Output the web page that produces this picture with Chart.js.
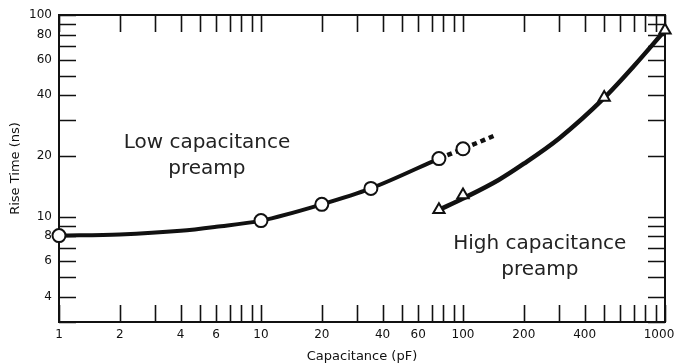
<!DOCTYPE html>
<html>
<head>
<meta charset="utf-8">
<script src="https://cdn.jsdelivr.net/npm/chart.js@4"></script>
<style>
  html, body { margin: 0; padding: 0; background: #fff; }
  canvas { display: block; }
</style>
</head>
<body>
<canvas id="chartRise" width="677" height="364"></canvas>
<script>
// measured points (capacitance pF / rise time ns)
const lowCap = [1, 10, 20, 35, 76, 100];
const lowRise = [8.05, 9.55, 11.5, 13.8, 19.4, 21.7];
const highCap = [76, 100, 500, 1000];
const highRise = [10.8, 12.8, 39, 84];

// drawn curves
const lowCurveCap = [1, 2, 4, 6, 10, 20, 35, 76];
const lowCurveRise = [8.05, 8.15, 8.5, 8.9, 9.55, 11.5, 13.8, 19.4];
const lowDashCap = [76, 100, 147];
const lowDashRise = [19.4, 21.7, 25.5];
const highCurveCap = [76, 100, 150, 200, 300, 500, 700, 1000];
const highCurveRise = [10.8, 12.3, 15.2, 18.3, 24.5, 38.8, 55.7, 84];

// axis ticks
const xTickMarks = [1, 2, 3, 4, 5, 6, 7, 8, 9, 10, 20, 30, 40, 50, 60, 70, 80, 90,
  100, 200, 300, 400, 500, 600, 700, 800, 900, 1000];
const xTickLabels = [1, 2, 4, 6, 10, 20, 40, 60, 100, 200, 400, 1000];
const yTickMarks = [3, 4, 5, 6, 7, 8, 9, 10, 20, 30, 40, 50, 60, 70, 80, 90, 100];
const yTickLabels = [4, 6, 8, 10, 20, 40, 60, 80, 100];

// text labels, anchored in data units
const notes = [
  {lines: ["Low capacitance", "preamp"], cap: 5.4, rise: 22},
  {lines: ["High capacitance", "preamp"], cap: 240, rise: 6.9}
];

const pts = (xs, ys) => xs.map((x, i) => ({x: x, y: ys[i]}));
const ink = "#111";
const font = "'DejaVu Sans', Verdana, sans-serif";

const frame = {
  id: "frame",
  beforeDatasetsDraw(chart) {
    const {ctx, chartArea: a, scales: {x, y}} = chart;
    const len = 17;
    ctx.save();
    ctx.strokeStyle = ink;
    ctx.lineWidth = 1.6;
    ctx.beginPath();
    xTickMarks.forEach(v => {
      const px = Math.round(x.getPixelForValue(v)) + 0.5;
      ctx.moveTo(px, a.bottom); ctx.lineTo(px, a.bottom - len);
      ctx.moveTo(px, a.top); ctx.lineTo(px, a.top + len);
    });
    yTickMarks.forEach(v => {
      const py = Math.round(y.getPixelForValue(v)) + 0.5;
      ctx.moveTo(a.left, py); ctx.lineTo(a.left + len, py);
      ctx.moveTo(a.right, py); ctx.lineTo(a.right - len, py);
    });
    ctx.stroke();
    ctx.lineWidth = 2;
    ctx.strokeRect(a.left, a.top, a.right - a.left, a.bottom - a.top);
    ctx.restore();
  },
  afterDraw(chart) {
    const {ctx, scales: {x, y}} = chart;
    ctx.save();
    ctx.fillStyle = "#222";
    ctx.font = "20px " + font;
    ctx.textAlign = "center";
    ctx.textBaseline = "alphabetic";
    notes.forEach(n => {
      const px = x.getPixelForValue(n.cap);
      const py = y.getPixelForValue(n.rise);
      n.lines.forEach((t, i) => ctx.fillText(t, px, py + i * 26));
    });
    ctx.restore();
  }
};

new Chart(document.querySelector("#chartRise"), {
  type: "scatter",
  data: {
    datasets: [
      {
        data: pts(lowCap, lowRise),
        showLine: false,
        pointStyle: "circle",
        pointRadius: 6.5,
        pointBorderWidth: 2,
        pointBackgroundColor: "#fff",
        pointBorderColor: ink,
        clip: false
      },
      {
        data: pts(highCap, highRise),
        showLine: false,
        pointStyle: "triangle",
        pointRadius: 6.5,
        pointBorderWidth: 2,
        pointBackgroundColor: "#fff",
        pointBorderColor: ink,
        clip: false
      },
      {
        data: pts(lowCurveCap, lowCurveRise),
        showLine: true,
        borderColor: ink,
        borderWidth: 4,
        pointRadius: 0,
        cubicInterpolationMode: "monotone",
        clip: false
      },
      {
        data: pts(lowDashCap, lowDashRise),
        showLine: true,
        borderColor: ink,
        borderWidth: 4.5,
        borderDash: [5, 4],
        pointRadius: 0,
        cubicInterpolationMode: "monotone",
        clip: false
      },
      {
        data: pts(highCurveCap, highCurveRise),
        showLine: true,
        borderColor: ink,
        borderWidth: 4.5,
        pointRadius: 0,
        cubicInterpolationMode: "monotone",
        clip: false
      }
    ]
  },
  options: {
    responsive: false,
    animation: false,
    devicePixelRatio: 1,
    layout: {padding: {left: 0, top: 15, right: 12, bottom: 0}},
    plugins: {legend: {display: false}, tooltip: {enabled: false}},
    scales: {
      x: {
        type: "logarithmic",
        min: 1,
        max: 1000,
        afterBuildTicks: s => { s.ticks = xTickMarks.map(v => ({value: v})); },
        afterFit: s => { s.height = 42; s.paddingLeft = 0; s.paddingRight = 0; },
        grid: {display: false, drawTicks: false},
        border: {display: false},
        ticks: {
          autoSkip: false,
          maxRotation: 0,
          padding: 6,
          color: ink,
          font: {family: font, size: 12},
          // last label sits against the page edge, pad it so it stays inside
          callback: v => !xTickLabels.includes(v) ? "" : (v === 1000 ? "1000\u2003" : String(v))
        },
        title: {
          display: true,
          text: "Capacitance (pF)",
          color: ink,
          font: {family: font, size: 13},
          padding: {top: 0, bottom: 0}
        }
      },
      y: {
        type: "logarithmic",
        min: 3,
        max: 100,
        afterBuildTicks: s => { s.ticks = yTickMarks.map(v => ({value: v})); },
        afterFit: s => { s.width = 59; s.paddingTop = 0; s.paddingBottom = 0; },
        grid: {display: false, drawTicks: false},
        border: {display: false},
        ticks: {
          autoSkip: false,
          padding: 7,
          color: ink,
          font: {family: font, size: 12},
          callback: v => yTickLabels.includes(v) ? String(v) : ""
        },
        title: {
          display: true,
          text: "Rise Time (ns)",
          color: ink,
          font: {family: font, size: 13},
          padding: {top: 8, bottom: 0}
        }
      }
    }
  },
  plugins: [frame]
});
</script>
</body>
</html>
